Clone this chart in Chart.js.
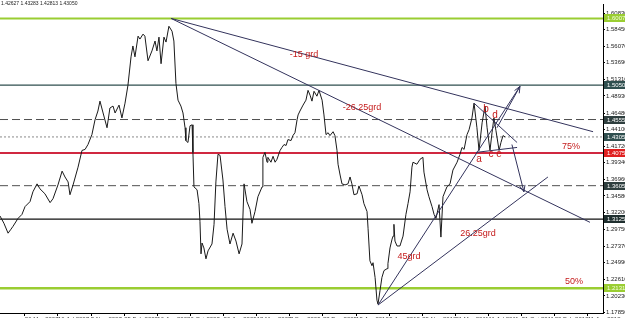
<!DOCTYPE html>
<html>
<head>
<meta charset="utf-8">
<script src="https://cdn.jsdelivr.net/npm/chart.js@4.4.1/dist/chart.umd.min.js"></script>
<style>
  html, body { margin: 0; padding: 0; background: #fff; }
  #wrap { width: 625px; height: 318px; }
</style>
</head>
<body>
<div id="wrap"><canvas id="chart" width="625" height="318"></canvas></div>
<script>
// weekly close line, weeks counted from 1 Jan 2007
const weeks = [
    0, 1.9, 3.9, 5.3, 6.3, 8.7, 10.6, 12.1, 14.5, 15.9,
    17.9, 19.3, 21.7, 24.2, 25.6, 28, 30, 31.4, 32.9, 33.8,
    35.3, 37.7, 39.6, 41.1, 42.5, 44.4, 45.9, 47.3, 48.3, 49.8,
    51.7, 53.1, 54.6, 55.6, 57.5, 58.9, 60.4, 61.8, 63.3, 64.2,
    65.2, 66.7, 67.6, 69.1, 70, 71.5, 73.4, 74.9, 75.8, 76.8,
    77.8, 79.2, 80.2, 81.6, 83.1, 84, 85, 86, 87.4, 88.4,
    89.4, 89.8, 90.8, 91.8, 92.8, 93.2, 93.7, 95.2, 96.1, 96.6,
    97.1, 97.6, 98.5, 99.5, 100.5, 102.4, 103.4, 104.3, 105.3, 106.3,
    107.7, 108.7, 109.7, 111.1, 112.6, 114, 115.5, 116.9, 117.9, 119.3,
    120.8, 121.7, 123.2, 124.6, 126.6, 127, 128, 129, 129.4, 130.9,
    131.9, 132.9, 133.8, 135.3, 136.2, 137.2, 138.2, 139.1, 140.6, 141.5,
    142.5, 143.5, 144, 144.9, 146.4, 147.8, 148.8, 149.8, 150.7, 151.7,
    153.1, 154.1, 155.6, 156.5, 157.5, 158.5, 159.4, 160.9, 161.8, 162.8,
    163.3, 164.3, 165.2, 166.7, 168.1, 169.1, 170, 171, 172.5, 173.4,
    174.9, 175.8, 177.3, 177.8, 178.7, 179.7, 180.2, 181.2, 182.1, 182.6,
    183.6, 184.5, 185.5, 187, 187.4, 188.4, 189.4, 189.9, 190.3, 190.8,
    191.8, 193.2, 194.7, 196.1, 197.1, 198.1, 199, 199.5, 201.4, 202.9,
    204.3, 204.8, 206.3, 207.2, 208.7, 209.7, 210.6, 212.1, 213, 214,
    215.9, 217.4, 218.8, 220.8, 222.2, 223.2, 224.2, 225.6, 226.6, 228,
    229, 230.4, 231.4, 232.9, 234.3, 235.3, 236.7, 237.7, 238.6, 239.6,
    241.1, 242, 243, 244
];
const closes = [
    1.3170, 1.3065, 1.2923, 1.2980, 1.3022, 1.3135, 1.3192, 1.3305, 1.3376, 1.3517,
    1.3631, 1.3560, 1.3489, 1.3362, 1.3418, 1.3616, 1.3814, 1.3730, 1.3659, 1.3475,
    1.3616, 1.3871, 1.4111, 1.4126, 1.4196, 1.4338, 1.4550, 1.4677, 1.4819, 1.4649,
    1.4437, 1.4720, 1.4748, 1.4649, 1.4762, 1.4578, 1.4790, 1.5045, 1.5455, 1.5611,
    1.5455, 1.5752, 1.5710, 1.5781, 1.5752, 1.5399, 1.5540, 1.5682, 1.5540, 1.5738,
    1.5356, 1.5738, 1.5667, 1.5894, 1.5823, 1.5682, 1.5073, 1.4833, 1.4748, 1.4649,
    1.4437, 1.4253, 1.4225, 1.4465, 1.4479, 1.4083, 1.3588, 1.3546, 1.3348, 1.3093,
    1.2626, 1.2782, 1.2711, 1.2555, 1.2669, 1.2768, 1.3050, 1.3659, 1.4055, 1.4041,
    1.3687, 1.3305, 1.2980, 1.2768, 1.2923, 1.2810, 1.2626, 1.2768, 1.3631, 1.3376,
    1.3263, 1.3065, 1.3234, 1.3447, 1.3588, 1.4012, 1.4083, 1.3942, 1.4012, 1.3942,
    1.4027, 1.3942, 1.3984, 1.4111, 1.4154, 1.4196, 1.4182, 1.4267, 1.4253, 1.4324,
    1.4366, 1.4550, 1.4621, 1.4677, 1.4762, 1.4833, 1.4974, 1.4904, 1.4819, 1.4960,
    1.4890, 1.4974, 1.4833, 1.4621, 1.4338, 1.4366, 1.4324, 1.4380, 1.4324, 1.4111,
    1.3913, 1.3758, 1.3631, 1.3616, 1.3631, 1.3730, 1.3631, 1.3475, 1.3489, 1.3602,
    1.3475, 1.3348, 1.3234, 1.2994, 1.2527, 1.2456, 1.2499, 1.2287, 1.1961, 1.1905,
    1.2103, 1.2287, 1.2386, 1.2414, 1.2485, 1.2711, 1.2838, 1.2881, 1.3050, 1.2810,
    1.2739, 1.2739, 1.2881, 1.3192, 1.3348, 1.3517, 1.3871, 1.3942, 1.3913, 1.3984,
    1.4012, 1.3800, 1.3546, 1.3447, 1.3305, 1.3192, 1.3135, 1.3333, 1.2867, 1.3447,
    1.3588, 1.3631, 1.3829, 1.3942, 1.4055, 1.4154, 1.4126, 1.4338, 1.4409, 1.4578,
    1.4790, 1.4437, 1.4111, 1.4508, 1.4748, 1.4437, 1.4111, 1.4366, 1.4578, 1.4394,
    1.4111, 1.4225, 1.4324, 1.4305
];
const lastBar = [1.42627, 1.43283, 1.42813, 1.43050]; // open high low close

const priceTicks = [1.6083, 1.5845, 1.5607, 1.5369, 1.5131, 1.4893, 1.4648, 1.4410, 1.4172, 1.3934,
    1.3696, 1.3458, 1.3220, 1.2975, 1.2737, 1.2499, 1.2261, 1.2023, 1.1785];
const dateTickWeeks = [12, 28, 44, 60, 76, 92, 108, 124, 140, 156, 172, 188, 204, 220, 236, 252, 268, 284];
const dateLabels = ['26 Mar 2007', '16 Jul 2007', '5 Nov 2007', '25 Feb 2008', '16 Jun 2008', '6 Oct 2008',
    '26 Jan 2009', '18 May 2009', '7 Sep 2009', '28 Dec 2009', '19 Apr 2010', '9 Aug 2010',
    '29 Nov 2010', '21 Mar 2011', '11 Jul 2011', '31 Oct 2011', '20 Feb 2012', '11 Jun 2012'];

// horizontal levels
const levelPrices = [1.6007, 1.5050, 1.4555, 1.4305, 1.4075, 1.3605, 1.3125, 1.2131];

// trend lines, each [start, end]
const trendWeeks = [[82.6, 286.5], [82.6, 285], [182.6, 264.7], [182.6, 251.2], [229, 249.8], [230, 249.8]];
const trendPrices = [[1.6007, 1.4380], [1.6007, 1.3079], [1.1891, 1.3730], [1.1891, 1.5031], [1.4790, 1.4225], [1.4083, 1.4154]];
const arrowWeeks = [[240.1, 251.2], [247.3, 253.1]];
const arrowPrices = [[1.4437, 1.5031], [1.4196, 1.3517]];

const noteTexts = ['-15 grd', '-26.25grd', '26.25grd', '45grd', '75%', '50%', 'a', 'b', 'c', 'd', 'e'];
const noteWeeks = [146.9, 174.9, 230.9, 197.6, 275.8, 277.3, 231.4, 234.8, 237.2, 239.1, 241.1];
const notePrices = [1.5484, 1.4734, 1.2923, 1.2584, 1.4168, 1.2230, 1.3984, 1.4706, 1.4055, 1.4621, 1.4055];

const X_MAX = 291.3;
const Y_MIN = 1.1777;
const Y_MAX = 1.6205;
const FONT = '"Liberation Sans", Arial, sans-serif';
const TREND_COLOR = '#33335c';

const levelStyles = [
    { color: '#9acd32', width: 2, dash: [], box: '#9acd32', text: '#f4ffe0' },
    { color: '#2f4f4f', width: 1.2, dash: [], box: '#2f4f4f', text: '#ffffff' },
    { color: '#505050', width: 1, dash: [8, 4], box: '#2f3f3f', text: '#ffffff' },
    { color: '#8a8a8a', width: 1, dash: [2, 2], box: '#2f4f4f', text: '#ffffff' },
    { color: '#d02840', width: 2, dash: [], box: '#e02020', text: '#ffffff' },
    { color: '#505050', width: 1, dash: [8, 4], box: '#2f3f3f', text: '#ffffff' },
    { color: '#111111', width: 1.2, dash: [], box: '#1e2e2e', text: '#ffffff' },
    { color: '#9acd32', width: 2.5, dash: [], box: '#9acd32', text: '#f4ffe0' }
];

const datasets = [];

trendWeeks.concat(arrowWeeks).forEach((w, i) => {
    const p = i < trendWeeks.length ? trendPrices[i] : arrowPrices[i - trendWeeks.length];
    datasets.push({
        data: [{ x: w[0], y: p[0] }, { x: w[1], y: p[1] }],
        borderColor: TREND_COLOR,
        borderWidth: 1,
        pointRadius: 0
    });
});

datasets.push({
    data: weeks.map((w, i) => ({ x: w, y: closes[i] })),
    borderColor: '#1a1a1a',
    borderWidth: 1,
    pointRadius: 0,
    tension: 0
});

levelPrices.forEach((p, i) => {
    datasets.push({
        data: [{ x: 0, y: p }, { x: X_MAX, y: p }],
        borderColor: levelStyles[i].color,
        borderWidth: levelStyles[i].width,
        borderDash: levelStyles[i].dash,
        pointRadius: 0
    });
});

const overlay = {
    id: 'overlay',
    afterDraw(chart) {
        const { ctx, scales: { x, y } } = chart;
        ctx.save();

        // arrow heads
        ctx.strokeStyle = TREND_COLOR;
        ctx.lineWidth = 1;
        arrowWeeks.forEach((w, i) => {
            const x1 = x.getPixelForValue(w[0]), y1 = y.getPixelForValue(arrowPrices[i][0]);
            const x2 = x.getPixelForValue(w[1]), y2 = y.getPixelForValue(arrowPrices[i][1]);
            const a = Math.atan2(y2 - y1, x2 - x1);
            ctx.beginPath();
            [-1, 1].forEach(s => {
                ctx.moveTo(x2, y2);
                ctx.lineTo(x2 - 7 * Math.cos(a + s * 0.4), y2 - 7 * Math.sin(a + s * 0.4));
            });
            ctx.stroke();
        });

        // red notes
        ctx.fillStyle = '#c41a1a';
        ctx.textAlign = 'center';
        ctx.textBaseline = 'middle';
        noteTexts.forEach((t, i) => {
            ctx.font = (t.length === 1 ? '10px ' : '9px ') + FONT;
            ctx.fillText(t, x.getPixelForValue(noteWeeks[i]), y.getPixelForValue(notePrices[i]));
        });

        // last bar OHLC header
        ctx.fillStyle = '#222';
        ctx.textAlign = 'left';
        ctx.textBaseline = 'top';
        ctx.font = '5px ' + FONT;
        ctx.fillText(lastBar.map(v => v.toFixed(5)).join(' '), 1, 1);

        // level price boxes on the axis
        ctx.font = '6px ' + FONT;
        ctx.textBaseline = 'middle';
        levelPrices.forEach((p, i) => {
            const py = Math.round(y.getPixelForValue(p));
            ctx.fillStyle = levelStyles[i].box;
            ctx.fillRect(y.left + 1, py - 4, y.width, 8);
            ctx.fillStyle = levelStyles[i].text;
            ctx.fillText(p.toFixed(5), y.left + 4, py + 0.5);
        });
        ctx.restore();
    }
};

new Chart(document.getElementById('chart'), {
    type: 'line',
    data: { datasets },
    options: {
        responsive: false,
        animation: false,
        devicePixelRatio: 1,
        layout: { padding: 0 },
        plugins: { legend: { display: false }, tooltip: { enabled: false } },
        scales: {
            x: {
                type: 'linear',
                min: 0,
                max: X_MAX,
                afterFit: s => { s.height = 5; },
                afterBuildTicks: s => { s.ticks = dateTickWeeks.map(v => ({ value: v })); },
                ticks: {
                    callback: (v, i) => dateLabels[i],
                    font: { size: 6, family: FONT },
                    color: '#333',
                    padding: 0,
                    maxRotation: 0,
                    autoSkip: false,
                    align: 'start'
                },
                grid: { drawOnChartArea: false, drawTicks: true, tickLength: 3, color: '#000' },
                border: { color: '#000' }
            },
            y: {
                position: 'right',
                min: Y_MIN,
                max: Y_MAX,
                afterFit: s => { s.width = 22; },
                afterBuildTicks: s => { s.ticks = priceTicks.map(v => ({ value: v })); },
                ticks: {
                    callback: v => v.toFixed(5),
                    font: { size: 6, family: FONT },
                    color: '#222',
                    padding: 1,
                    autoSkip: false
                },
                grid: { drawOnChartArea: false, tickLength: 2, color: '#000' },
                border: { color: '#000' }
            }
        }
    },
    plugins: [overlay]
});
</script>
</body>
</html>
